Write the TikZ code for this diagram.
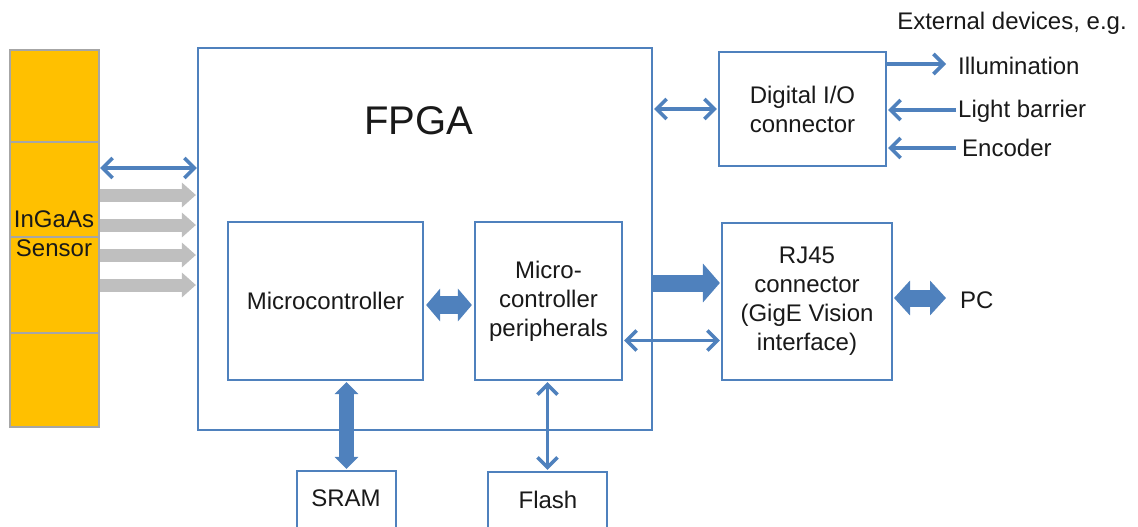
\documentclass[tikz,border=0pt]{standalone}
\usepackage{fontspec}
\setmainfont{Liberation Sans}
\usetikzlibrary{arrows.meta}
\definecolor{bl}{HTML}{4F81BD}
\definecolor{bldark}{HTML}{3F6EA8}
\definecolor{sens}{HTML}{FFC000}
\definecolor{sensb}{HTML}{A6A6A6}
\definecolor{gr}{HTML}{BFBFBF}
\begin{document}
\begin{tikzpicture}[x=1pt,y=-1pt,
  box/.style={draw=bl, line width=2.2pt, inner sep=0pt, fill=white},
  seg/.style={draw=sensb, line width=2pt, fill=sens, minimum width=89pt, inner sep=0pt},
  txt/.style={font=\fontsize{24}{29}\selectfont, align=center, inner sep=0pt, text=black!90},
  thinarr/.style={draw=bl, line width=3.6pt, line cap=butt},
  barb/.tip={Straight Barb[length=10pt,width=20pt]},
  blockarr/.style={draw=bl, line width=#1},
  grayarr/.style={draw=gr, line width=13pt, -{Triangle[length=14pt,width=24pt]}}
]
\useasboundingbox (0,0) rectangle (1138,527);
\clip (0,0) rectangle (1138,527);

% sensor column
\node[seg, minimum height=92pt] (s1) at (54.5,96) {};
\node[seg, minimum height=95pt] (s2) at (54.5,189.5) {};
\node[seg, minimum height=96pt] (s3) at (54.5,285) {};
\node[seg, minimum height=94pt] (s4) at (54.5,380) {};
\node[txt] (senstxt) at (54,234) {InGaAs\\Sensor};

% boxes
\node[box, minimum width=454pt, minimum height=382pt] (fpga) at (425,239) {};
\node[txt, font=\fontsize{40}{48}\selectfont] (fpgatxt) at (419,121) {FPGA};
\node[box, minimum width=195pt, minimum height=158pt, txt] (micro) at (325.5,301) {Microcontroller};
\node[box, minimum width=147pt, minimum height=158pt, txt] (periph) at (548.5,301) {Micro-\\controller\\peripherals};
\node[box, minimum width=167pt, minimum height=114pt, txt] (dio) at (802.5,109) {Digital I/O\\connector};
\node[box, minimum width=170pt, minimum height=157pt, txt] (rj) at (807,301.5) {RJ45\\connector\\(GigE Vision\\interface)};
\node[box, minimum width=99pt, minimum height=69pt] (sram) at (346.5,505.5) {};
\node[txt] (sramtxt) at (346,498) {SRAM};
\node[box, minimum width=119pt, minimum height=68pt] (flash) at (547.5,506) {};
\node[txt] (flashtxt) at (548,500) {Flash};

% external labels
\node[txt, anchor=base] (ext) at (1012,30) {External devices, e.g.};
\node[txt, anchor=base west] (illum) at (958,74.5) {Illumination};
\node[txt, anchor=base west] (light) at (958,117.5) {Light barrier};
\node[txt, anchor=base west] (enc) at (962,156.5) {Encoder};
\node[txt, anchor=base west] (pc) at (960,308) {PC};

% coordinates
\coordinate (sa) at (100,168);
\coordinate (g1) at (100,195);
\coordinate (g2) at (100,225);
\coordinate (g3) at (100,255);
\coordinate (g4) at (100,285);
\coordinate (eth) at ([yshift=18.5pt]rj.west);
\coordinate (per) at ([yshift=-39pt]rj.west);
\coordinate (ill) at (946,64);
\coordinate (lb) at (956,110);
\coordinate (en) at (956,148);
\coordinate (pcend) at (946,298);
\coordinate (pcstart) at (894,298);
\coordinate (mp) at ([yshift=-4pt]micro.east);

% sensor connections
\draw[thinarr, barb-barb] (sa) -- (fpga.west |- sa);
\foreach \g in {g1,g2,g3,g4} \draw[grayarr] (\g) -- ([xshift=-1pt]fpga.west |- \g);

% internal
\draw[blockarr=18pt, {Triangle[length=14pt,width=32pt]}-{Triangle[length=14pt,width=32pt]}] ([xshift=2pt]mp) -- ([xshift=-2pt]periph.west |- mp);
\draw[blockarr=15pt, {Triangle[length=12pt,width=23pt]}-{Triangle[length=12pt,width=23pt]}] ([yshift=-1pt]sram.north |- micro.south) -- ([yshift=1pt]sram.north);
\draw[thinarr, barb-barb] ([yshift=-1pt]flash.north |- periph.south) -- ([yshift=1pt]flash.north);

% right side
\draw[thinarr, barb-barb] ([xshift=1pt]fpga.east |- dio.west) -- ([xshift=-1pt]dio.west);
\draw[blockarr=17pt, -{Triangle[length=17pt,width=38pt]}] ([xshift=-1pt]fpga.east |- eth) -- ([xshift=-1pt]eth);
\draw[thinarr, barb-barb] ([xshift=1pt]periph.east |- per) -- ([xshift=-1pt]per);
\draw[blockarr=17pt, {Triangle[length=16pt,width=34pt]}-{Triangle[length=16pt,width=34pt]}] (pcstart) -- (pcend);

% external devices
\draw[thinarr, -barb] ([yshift=45pt]dio.east) -- (ill);
\draw[thinarr, -barb] (lb) -- ([xshift=1pt]dio.east |- lb);
\draw[thinarr, -barb] (en) -- ([xshift=1pt]dio.east |- en);
\end{tikzpicture}
\end{document}
